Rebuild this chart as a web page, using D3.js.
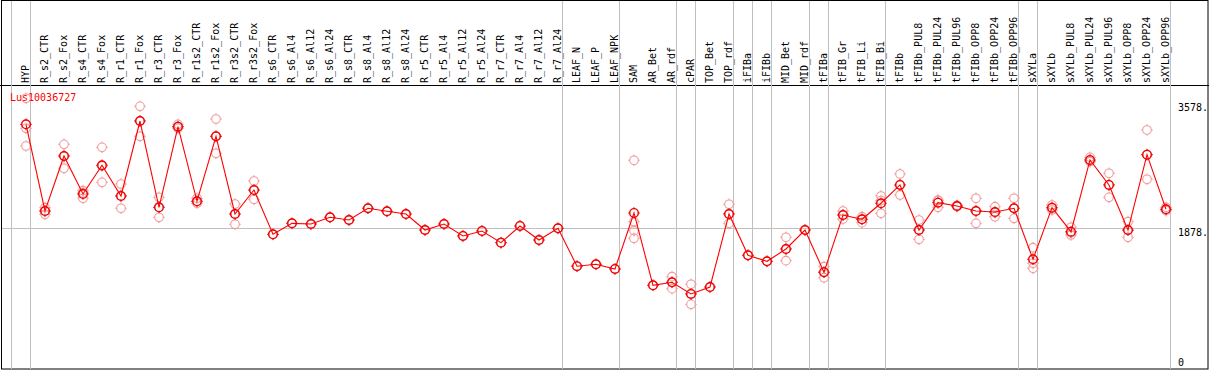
<!DOCTYPE html>
<html><head><meta charset="utf-8">
<script src="https://cdn.jsdelivr.net/npm/d3@7"></script>
<style>body{margin:0;background:#fff;}svg{display:block;}</style>
</head><body>
<svg id="c" width="1209" height="370"></svg>
<script>
const categories = ["HYP","R_s2_CTR","R_s2_Fox","R_s4_CTR","R_s4_Fox","R_r1_CTR","R_r1_Fox","R_r3_CTR","R_r3_Fox","R_r1s2_CTR","R_r1s2_Fox","R_r3s2_CTR","R_r3s2_Fox","R_s6_CTR","R_s6_Al4","R_s6_Al12","R_s6_Al24","R_s8_CTR","R_s8_Al4","R_s8_Al12","R_s8_Al24","R_r5_CTR","R_r5_Al4","R_r5_Al12","R_r5_Al24","R_r7_CTR","R_r7_Al4","R_r7_Al12","R_r7_Al24","LEAF_N","LEAF_P","LEAF_NPK","SAM","AR_Bet","AR_rdf","cPAR","TOP_Bet","TOP_rdf","iFIBa","iFIBb","MID_Bet","MID_rdf","tFIBa","tFIB_Gr","tFIB_Li","tFIB_Bi","tFIBb","tFIBb_PUL8","tFIBb_PUL24","tFIBb_PUL96","tFIBb_OPP8","tFIBb_OPP24","tFIBb_OPP96","sXYLa","sXYLb","sXYLb_PUL8","sXYLb_PUL24","sXYLb_PUL96","sXYLb_OPP8","sXYLb_OPP24","sXYLb_OPP96"];

const meanValues = [3288,2109,2857,2340,2731,2313,3333,2159,3256,2241,3125,2068,2394,1792,1941,1932,2023,1986,2146,2105,2068,1850,1932,1769,1837,1678,1905,1714,1873,1358,1384,1320,2082,1098,1139,980,1075,2068,1506,1424,1592,1850,1276,2054,1996,2214,2463,1850,2222,2177,2109,2095,2146,1452,2154,1827,2803,2463,1850,2875,2132];

const replicateValues = [
 [3642,3234,2993],[2154,2064,2109],[3016,2690,2857],[2385,2282,2354],[2975,2499,2721],
 [2476,2146,2313],[3533,3125,3333],[2295,2023,2159],[3288,3234,3256],[2282,2214,2241],
 [3360,2894,3125],[2204,1928,2068],[2517,2268,2394],[1792],[1941],[1932],[2023],[1986],
 [2146],[2105],[2068],[1850],[1932],[1769],[1837],[1678],[1905],[1714],[1873],
 [1358],[1384],[1320],[2799,1963,1841,1737],[1098],[1215,1052,1139],[1112,839,980],[1075],
 [2200,1941,2068],[1506],[1424],[1751,1433,1592],[1850],[1351,1201,1276],[2109,2000,2054],
 [2031,1950,1996],[2313,2077,2251],[2612,2327,2463],[1986,1724,1850],[2258,2159,2250],
 [2186,2168,2177],[2282,1941,2109],[2168,2031,2086],[2282,2009,2146],[1610,1329,1397],
 [2190,2122,2150],[1887,1782,1812],[2839,2780,2790],[2622,2295,2463],[1963,1751,1846],
 [3211,2540,2875],[2159,2113,2132]
];

const groupEnds = ["HYP","R_r7_Al24","LEAF_NPK","AR_rdf","cPAR","TOP_rdf","iFIBa","iFIBb","MID_rdf","tFIBa","tFIB_Bi","tFIBb_OPP96","sXYLa","sXYLb_OPP96"];
const yTickValues = [0, 1878, 3578];
const yTickLabels = ["0", "1878.", "3578."];
const geneName = "Lus10036727";

const W = 1209, H = 370;
const svg = d3.select("#c");
const font = "'DejaVu Sans Mono', 'Liberation Mono', monospace";

const x = d3.scaleBand().domain(categories).range([11.5, 1170.5]).padding(0);
const bw = x.bandwidth();
const px = c => x(c) + bw * 0.763;
const y = d3.scaleLinear().domain([0, 3578]).range([366, 103]);

// borders
svg.append("rect").attr("x",1.5).attr("y",0.5).attr("width",W-2.5).attr("height",H-1.5)
  .attr("fill","none").attr("stroke","#000");
svg.append("line").attr("x1",0).attr("x2",W).attr("y1",85.5).attr("y2",85.5).attr("stroke","#000");

// horizontal grid at 1878
svg.append("line").attr("x1",2).attr("x2",x.range()[1]).attr("y1",Math.round(y(1878))+0.5).attr("y2",Math.round(y(1878))+0.5)
  .attr("stroke","#c0c0c0");

// vertical separators
const sepX = [x(categories[0])].concat(groupEnds.map(c => x(c) + bw));
svg.selectAll("line.sep").data(sepX).join("line").attr("class","sep")
  .attr("x1",d=>Math.round(d)-0.5).attr("x2",d=>Math.round(d)-0.5).attr("y1",1).attr("y2",H-1)
  .attr("stroke","#c0c0c0");

// header labels
svg.selectAll("text.cat").data(categories).join("text").attr("class","cat")
  .attr("transform", c => `translate(${px(c)+3},83) rotate(-90)`)
  .attr("font-family",font).attr("font-size","10px").attr("fill","#000")
  .text(c => c);

// right axis labels
svg.selectAll("text.yl").data(yTickValues).join("text").attr("class","yl")
  .attr("x",1178).attr("y",(d,i)=>Math.min(y(d)+8,366))
  .attr("font-family",font).attr("font-size","10px").attr("fill","#000")
  .text((d,i)=>yTickLabels[i]);

// gene name
svg.append("text").attr("x",10).attr("y",101).attr("font-family",font).attr("font-size","10px")
  .attr("fill","#ff0000").text(geneName);

function marker(g, cx, cy, color, sw) {
  g.append("circle").attr("cx",cx).attr("cy",cy).attr("r",4.3).attr("fill","none").attr("stroke",color).attr("stroke-width",sw);
  const t = [[0,-1],[0,1],[-1,0],[1,0]];
  t.forEach(([dx,dy]) => {
    g.append("line").attr("x1",cx+dx*4.3).attr("y1",cy+dy*4.3).attr("x2",cx+dx*5.8).attr("y2",cy+dy*5.8)
      .attr("stroke",color).attr("stroke-width",1);
  });
}

// replicates
const repG = svg.append("g");
categories.forEach((c,i) => {
  replicateValues[i].forEach(v => marker(repG, px(c), y(v), "#f09a9a", 1.1));
});

// mean line
svg.append("path").datum(meanValues)
  .attr("d", d3.line().x((d,i)=>px(categories[i])).y(d=>y(d)))
  .attr("fill","none").attr("stroke","#ff0000").attr("stroke-width",1.1);

// means
const meanG = svg.append("g");
categories.forEach((c,i) => marker(meanG, px(c), y(meanValues[i]), "#ee0000", 1.4));
</script>
</body></html>
